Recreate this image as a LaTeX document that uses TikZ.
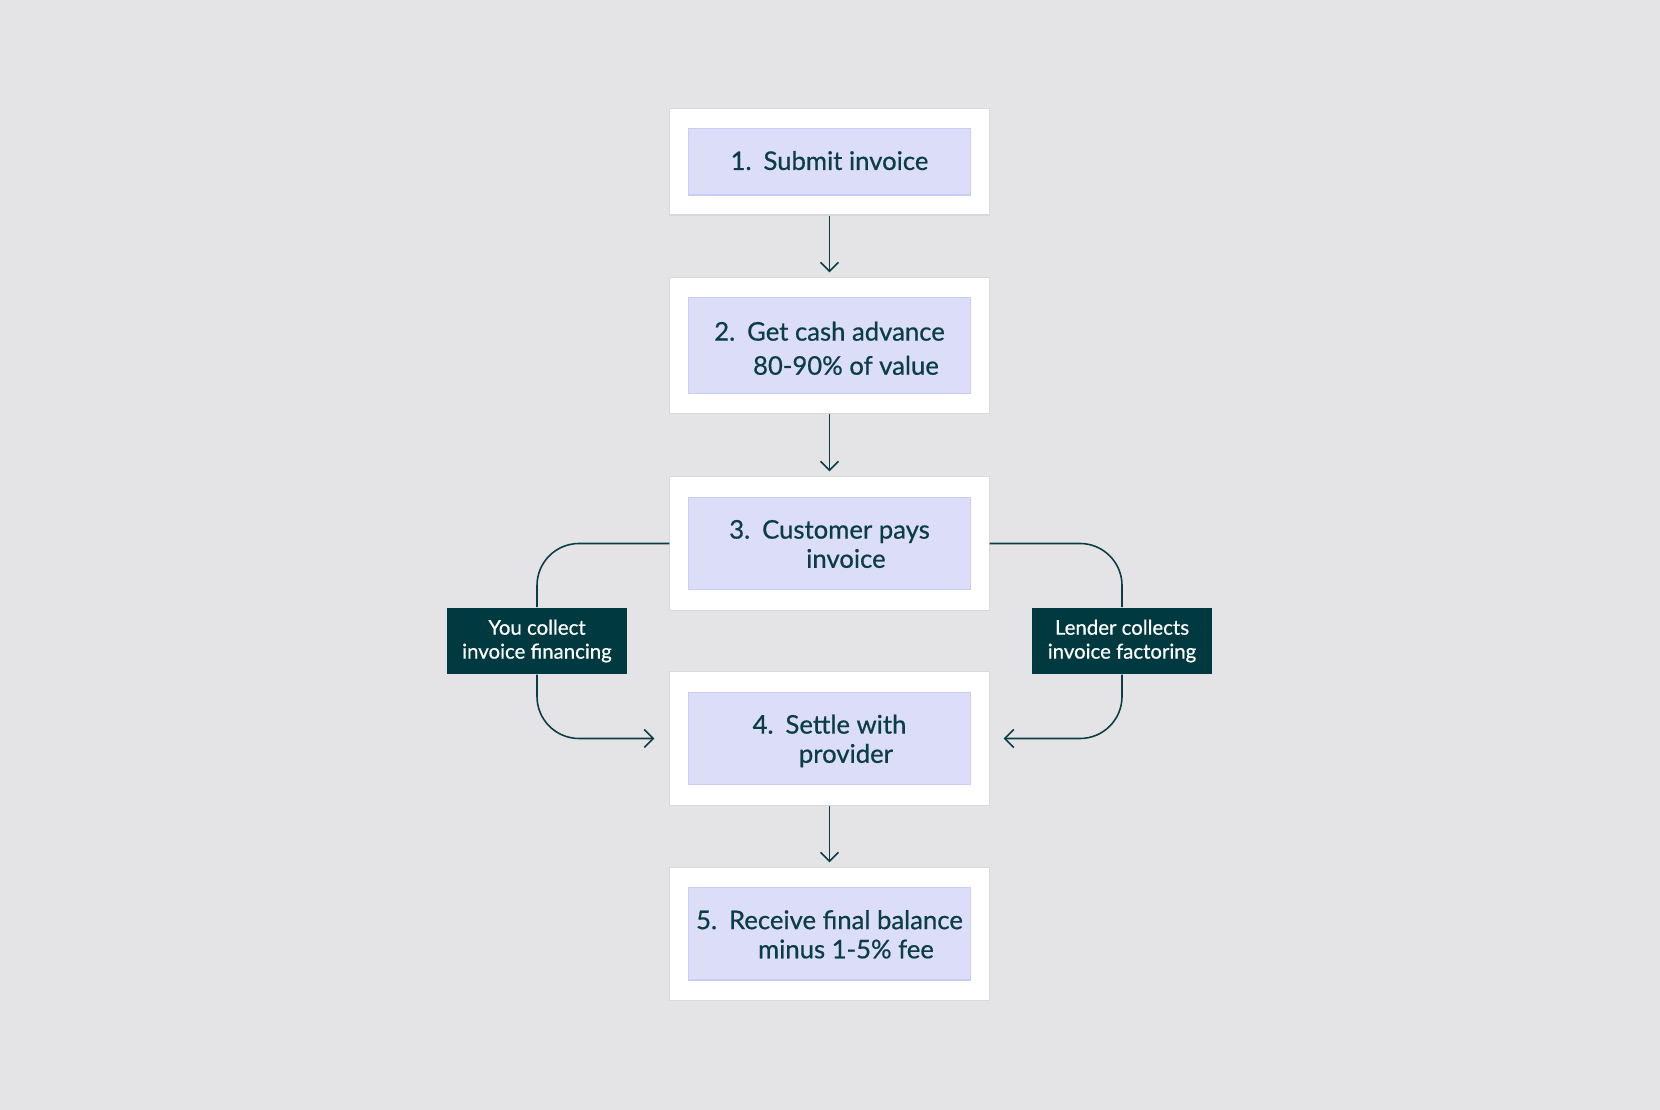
\documentclass[tikz,border=0pt]{standalone}
\usepackage{fontspec}
\setmainfont{Lato}
\newfontfamily\medfont{Lato}[FakeBold=0.6]
\usepackage{tikz}
\usetikzlibrary{arrows.meta, positioning}

\definecolor{bggray}{HTML}{E4E4E6}
\definecolor{cardline}{HTML}{D8D9DC}
\definecolor{lavender}{HTML}{DBDDF9}
\definecolor{lavline}{HTML}{C9CDF5}
\definecolor{tealtext}{HTML}{0B3D45}
\definecolor{tealbox}{HTML}{003A40}

\newcommand{\steptext}[3][1.1pt]{\raisebox{-#1}[\height][\depth]{#2\hspace{3.4pt}\begin{tabular}[t]{@{}c@{}}#3\end{tabular}}}

\begin{document}
\begin{tikzpicture}[
		x=0.01cm, y=-0.01cm,
		every node/.style={font=\medfont\fontsize{7.3}{8.3}\selectfont, text=tealtext},
		card/.style={
			rectangle,
			draw=cardline,
			fill=white,
			line width=0.3pt,
			minimum width=3.19cm
		},
		stepbox/.style={
			rectangle,
			draw=lavline,
			fill=lavender,
			line width=0.3pt,
			inner xsep=0.5pt,
			align=center,
			minimum width=2.81cm
		},
		tagbox/.style={
			rectangle,
			fill=tealbox,
			align=center,
			text=white,
			font=\medfont\fontsize{5.8}{6.8}\selectfont,
			minimum width=1.80cm,
			minimum height=0.65cm
		},
		link/.style={
			draw=tealtext,
			line width=0.45pt,
			rounded corners=0.42cm
		},
		arrow/.style={
			link,
			-{Straight Barb[length=0.09cm, width=0.18cm]},
			shorten >=0.05cm
		}
		]
		
		% Background
		\fill[bggray] (0,0) rectangle (1660,1110);
		\useasboundingbox (0,0) rectangle (1660,1110);
		
		% Nodes
		\node[card, minimum height=1.06cm] (o1) at (829.5,162) {};
		\node[stepbox, minimum height=0.66cm] (s1) at (o1) {\steptext[0.6pt]{1.}{Submit invoice}};
		
		\node[card, minimum height=1.35cm] (o2) at (829.5,345.5) {};
		\node[stepbox, minimum height=0.96cm] (s2) at (o2) {\steptext[1.8pt]{2.}{Get cash advance\\[1.4pt]80-90\% of value}};
		
		\node[card, minimum height=1.33cm] (o3) at (829.5,543.5) {};
		\node[stepbox, minimum height=0.92cm] (s3) at (o3) {\steptext{3.}{Customer pays\\invoice}};
		
		\node[card, minimum height=1.33cm] (o4) at (829.5,738.5) {};
		\node[stepbox, minimum height=0.92cm] (s4) at (o4) {\steptext{4.}{Settle with\\provider}};
		
		\node[card, minimum height=1.32cm] (o5) at (829.5,934) {};
		\node[stepbox, minimum height=0.92cm] (s5) at (o5) {\steptext{5.}{Receive final balance\\minus 1-5\% fee}};
		
		\node[tagbox] (lc) at (537,641) {You collect\\invoice financing};
		\node[tagbox] (rc) at (1122,641) {Lender collects\\invoice factoring};
		
		% Arrows (main flow)
		\draw[arrow] (o1) -- (o2);
		\draw[arrow] (o2) -- (o3);
		\draw[arrow] (o4) -- (o5);
		
		% Side paths
		\draw[link] (o3.west) -| (lc.north);
		\draw[arrow, shorten >=0.15cm] (lc.south) |- (o4.west);
		
		\draw[link] (o3.east) -| (rc.north);
		\draw[arrow, shorten >=0.14cm] (rc.south) |- (o4.east);
	\end{tikzpicture}
\end{document}
